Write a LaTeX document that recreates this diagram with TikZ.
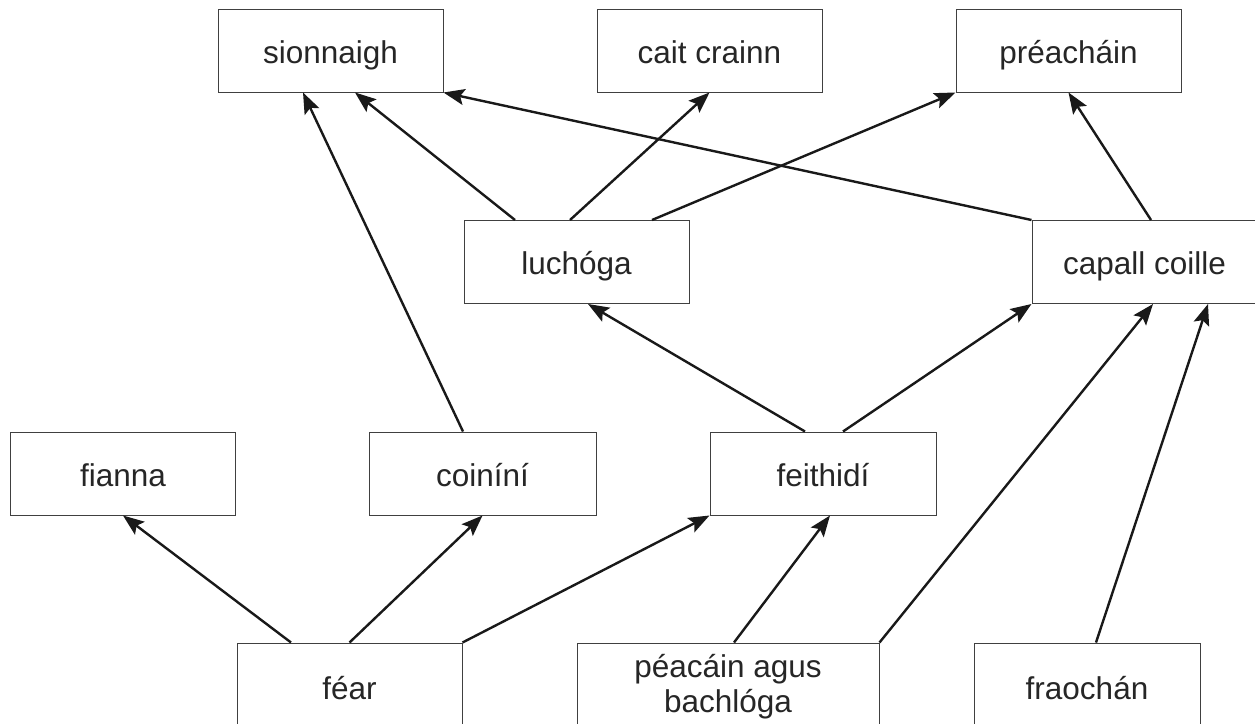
\documentclass[tikz,border=0pt]{standalone}
\usepackage{fontspec}
\setmainfont{Liberation Sans}
\usetikzlibrary{arrows.meta}

\begin{document}
\begin{tikzpicture}[x=1pt, y=-1pt,
                        every node/.style={rectangle, draw=black!75, line width=1pt, fill=white,
                                           text=black!85, minimum width=225pt, minimum height=83pt,
                                           inner sep=0pt, align=center, text height=25pt, text depth=0pt,
                                           font=\fontsize{31.5}{35}\selectfont},
                        every edge/.style={draw, line width=2.4pt, black!90,
                                           -{Stealth[length=21pt, width=16pt, inset=4pt]}}]

                        \useasboundingbox (0,0) rectangle (1255,723);

                        % Define nodes
                        \node (sion) at (330.5,50.5) {sionnaigh}; % top row
                        \node (cait) at (709.5,50.5) {cait crainn};
                        \node (preach) at (1068.5,50.5) {préacháin};
                        \node (luch) at (576.5,262) {luchóga}; % second row
                        \node (capall) at (1144.5,262) {capall coille};
                        \node (fianna) at (123,473.5) {fianna}; % third row
                        \node[minimum width=227pt] (coin) at (482.5,473.5) {coiníní};
                        \node[minimum width=226pt] (feith) at (823,473.5) {feithidí};
                        \node[minimum height=88pt] (fear) at (349.5,687) {féar}; % bottom row
                        \node[minimum width=302pt, minimum height=88pt, text height={}, text depth={}] (peac) at (728,687) {péacáin agus\\bachlóga};
                        \node[minimum width=226pt, minimum height=88pt] (fraoch) at (1087,687) {fraochán};

                        % Define edges
                        \path ([xshift=-61.5]luch.north) edge ([xshift=24.5]sion.south);
                        \path ([xshift=-19.5]coin.north) edge ([xshift=-27.5]sion.south);
                        \path (capall.north west) edge (sion.south east);
                        \path ([xshift=-6.5]luch.north) edge (cait.south);
                        \path ([xshift=75.5]luch.north) edge (preach.south west);
                        \path ([xshift=6.5]capall.north) edge (preach.south);
                        \path ([xshift=-18]feith.north) edge ([xshift=11.5]luch.south);
                        \path ([xshift=20]feith.north) edge (capall.south west);
                        \path ([xshift=-58.5]fear.north) edge (fianna.south);
                        \path (fear.north) edge (coin.south);
                        \path (fear.north east) edge (feith.south west);
                        \path ([xshift=6]peac.north) edge ([xshift=7]feith.south);
                        \path (peac.north east) edge ([xshift=8.5]capall.south);
                        \path ([xshift=9]fraoch.north) edge ([xshift=63.5]capall.south);
                    \end{tikzpicture}
\end{document}
